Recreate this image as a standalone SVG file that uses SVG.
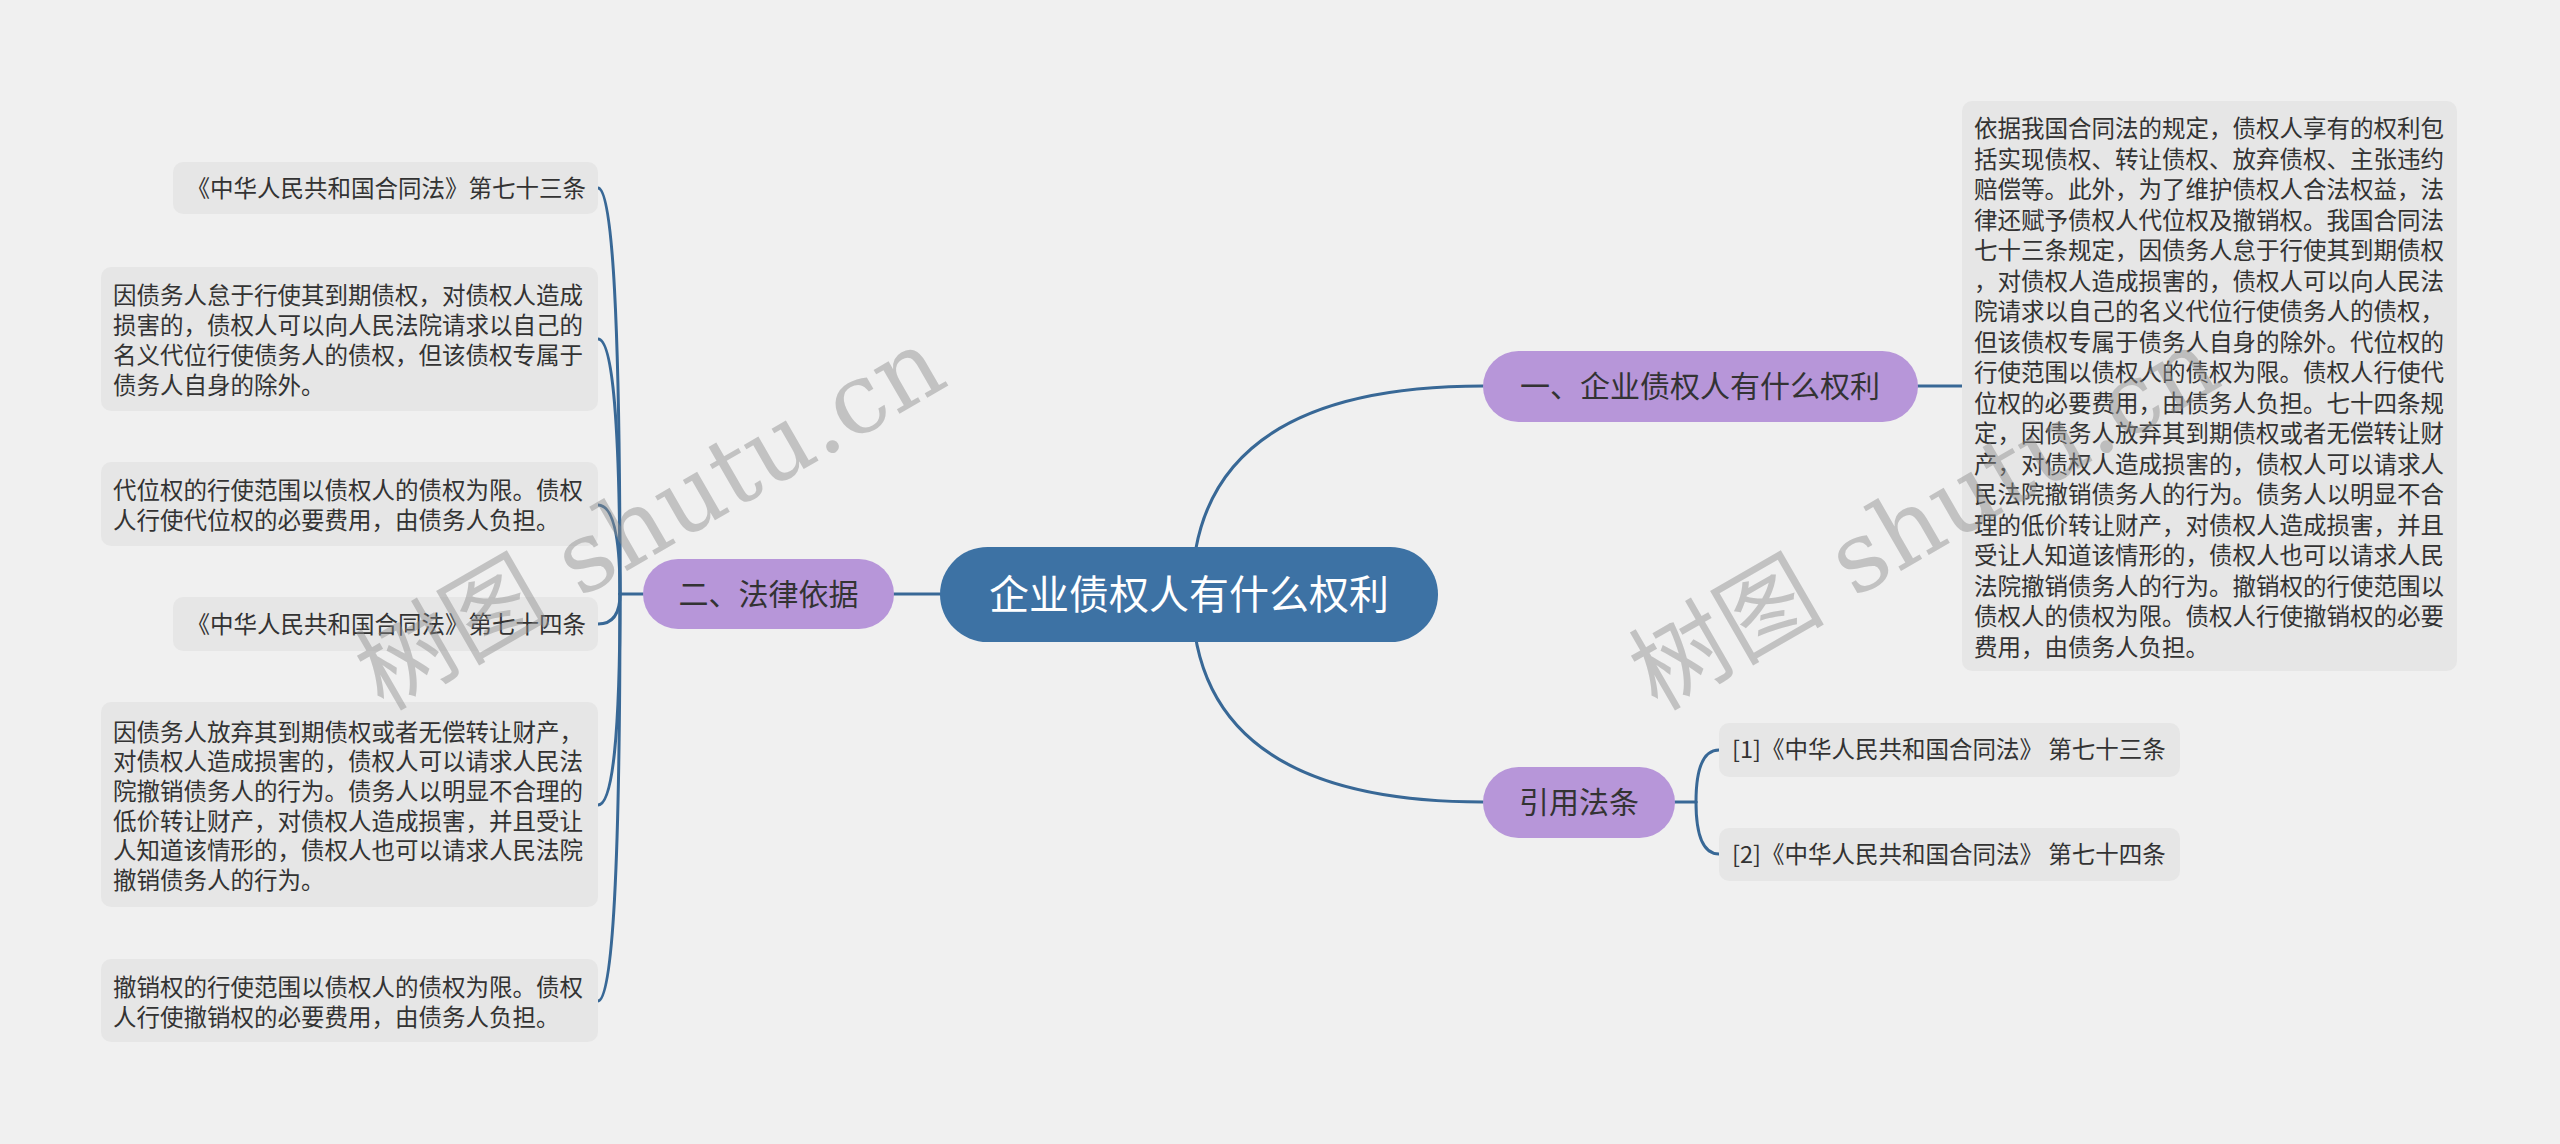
<svg xmlns="http://www.w3.org/2000/svg" width="2560" height="1144" viewBox="0 0 2560 1144">
<style>
.bg{fill:#f0f0f0}
.leaf{fill:#e6e6e6}
.sub{fill:#b796d9}
.root{fill:#3d72a4}
.t{font-family:"Noto Sans CJK SC","Noto Sans",sans-serif;fill:#333333}
.lt{font-size:23.5px}
.st{font-size:30px;text-anchor:middle}
.rt{font-size:40px;text-anchor:middle;fill:#ffffff}
.ln{fill:none;stroke:#386896;stroke-width:3;stroke-linecap:round}
.wm{font-family:"DejaVu Serif","Noto Sans CJK SC",serif;font-size:98px;fill:#8c8c8c;opacity:0.45;text-anchor:middle}
</style>
<rect class="bg" x="0" y="0" width="2560" height="1144"/>

<g id="connectors">
  <path class="ln" d="M1192 594 Q1192 386 1483 386"/>
  <path class="ln" d="M1192 594 Q1192 802 1483 802"/>
  <path class="ln" d="M940 594 H894"/>
  <path class="ln" d="M643 594 H620"/>
  <path class="ln" d="M620 594 Q620 188 598 188"/>
  <path class="ln" d="M620 594 Q620 339 598 339"/>
  <path class="ln" d="M620 594 Q620 505 598 505"/>
  <path class="ln" d="M620 594 Q620 624 598 624"/>
  <path class="ln" d="M620 594 Q620 805 598 805"/>
  <path class="ln" d="M620 594 Q620 1001 598 1001"/>
  <path class="ln" d="M1918 386 H1962"/>
  <path class="ln" d="M1675 802 H1696"/>
  <path class="ln" d="M1696 802 Q1696 750 1719 750"/>
  <path class="ln" d="M1696 802 Q1696 854 1719 854"/>
</g>

<g id="root">
  <rect class="root" x="940" y="547" width="498" height="95" rx="47.5"/>
  <text class="t rt" x="1189" y="609">企业债权人有什么权利</text>
</g>

<g id="n1">
  <rect class="sub" x="1483" y="351" width="435" height="71" rx="35.5"/>
  <text class="t st" x="1700" y="397">一、企业债权人有什么权利</text>
</g>

<g id="n1-detail">
  <rect class="leaf" x="1962" y="101" width="495" height="570" rx="10"/>
  <text class="t lt">
    <tspan x="1974" y="137">依据我国合同法的规定，债权人享有的权利包</tspan>
    <tspan x="1974" y="167.5">括实现债权、转让债权、放弃债权、主张违约</tspan>
    <tspan x="1974" y="198">赔偿等。此外，为了维护债权人合法权益，法</tspan>
    <tspan x="1974" y="228.5">律还赋予债权人代位权及撤销权。我国合同法</tspan>
    <tspan x="1974" y="259">七十三条规定，因债务人怠于行使其到期债权</tspan>
    <tspan x="1974" y="289.5">，对债权人造成损害的，债权人可以向人民法</tspan>
    <tspan x="1974" y="320">院请求以自己的名义代位行使债务人的债权，</tspan>
    <tspan x="1974" y="350.5">但该债权专属于债务人自身的除外。代位权的</tspan>
    <tspan x="1974" y="381">行使范围以债权人的债权为限。债权人行使代</tspan>
    <tspan x="1974" y="411.5">位权的必要费用，由债务人负担。七十四条规</tspan>
    <tspan x="1974" y="442">定，因债务人放弃其到期债权或者无偿转让财</tspan>
    <tspan x="1974" y="472.5">产，对债权人造成损害的，债权人可以请求人</tspan>
    <tspan x="1974" y="503">民法院撤销债务人的行为。债务人以明显不合</tspan>
    <tspan x="1974" y="533.5">理的低价转让财产，对债权人造成损害，并且</tspan>
    <tspan x="1974" y="564">受让人知道该情形的，债权人也可以请求人民</tspan>
    <tspan x="1974" y="594.5">法院撤销债务人的行为。撤销权的行使范围以</tspan>
    <tspan x="1974" y="625">债权人的债权为限。债权人行使撤销权的必要</tspan>
    <tspan x="1974" y="655.5">费用，由债务人负担。</tspan>
  </text>
</g>

<g id="n2">
  <rect class="sub" x="643" y="559" width="251" height="70" rx="35"/>
  <text class="t st" x="768.5" y="605">二、法律依据</text>
</g>

<g id="n2-a">
  <rect class="leaf" x="173" y="162" width="425" height="52" rx="10"/>
  <text class="t lt" x="586" y="196.5" text-anchor="end">《中华人民共和国合同法》第七十三条</text>
</g>
<g id="n2-b">
  <rect class="leaf" x="101" y="267" width="497" height="144" rx="10"/>
  <text class="t lt">
    <tspan x="113" y="303.5">因债务人怠于行使其到期债权，对债权人造成</tspan>
    <tspan x="113" y="333.5">损害的，债权人可以向人民法院请求以自己的</tspan>
    <tspan x="113" y="363.5">名义代位行使债务人的债权，但该债权专属于</tspan>
    <tspan x="113" y="393.5">债务人自身的除外。</tspan>
  </text>
</g>
<g id="n2-c">
  <rect class="leaf" x="101" y="462" width="497" height="84" rx="10"/>
  <text class="t lt">
    <tspan x="113" y="498.5">代位权的行使范围以债权人的债权为限。债权</tspan>
    <tspan x="113" y="528.5">人行使代位权的必要费用，由债务人负担。</tspan>
  </text>
</g>
<g id="n2-d">
  <rect class="leaf" x="173" y="597" width="425" height="54" rx="10"/>
  <text class="t lt" x="586" y="632.5" text-anchor="end">《中华人民共和国合同法》第七十四条</text>
</g>
<g id="n2-e">
  <rect class="leaf" x="101" y="702" width="497" height="205" rx="10"/>
  <text class="t lt">
    <tspan x="113" y="740.5">因债务人放弃其到期债权或者无偿转让财产，</tspan>
    <tspan x="113" y="770.2">对债权人造成损害的，债权人可以请求人民法</tspan>
    <tspan x="113" y="799.9">院撤销债务人的行为。债务人以明显不合理的</tspan>
    <tspan x="113" y="829.6">低价转让财产，对债权人造成损害，并且受让</tspan>
    <tspan x="113" y="859.3">人知道该情形的，债权人也可以请求人民法院</tspan>
    <tspan x="113" y="889">撤销债务人的行为。</tspan>
  </text>
</g>
<g id="n2-f">
  <rect class="leaf" x="101" y="959" width="497" height="83" rx="10"/>
  <text class="t lt">
    <tspan x="113" y="995.5">撤销权的行使范围以债权人的债权为限。债权</tspan>
    <tspan x="113" y="1025.5">人行使撤销权的必要费用，由债务人负担。</tspan>
  </text>
</g>

<g id="n3">
  <rect class="sub" x="1483" y="767" width="192" height="71" rx="35.5"/>
  <text class="t st" x="1579" y="813">引用法条</text>
</g>
<g id="n3-a">
  <rect class="leaf" x="1719" y="723" width="461" height="54" rx="10"/>
  <text class="t lt" x="1732" y="758">[1]《中华人民共和国合同法》 第七十三条</text>
</g>
<g id="n3-b">
  <rect class="leaf" x="1719" y="828" width="461" height="53" rx="10"/>
  <text class="t lt" x="1732" y="862.5">[2]《中华人民共和国合同法》 第七十四条</text>
</g>

<g id="watermark">
  <text class="wm" transform="translate(667 548) rotate(-30)">树图 shutu.cn</text>
  <text class="wm" transform="translate(1941 548) rotate(-30)">树图 shutu.cn</text>
</g>
</svg>
